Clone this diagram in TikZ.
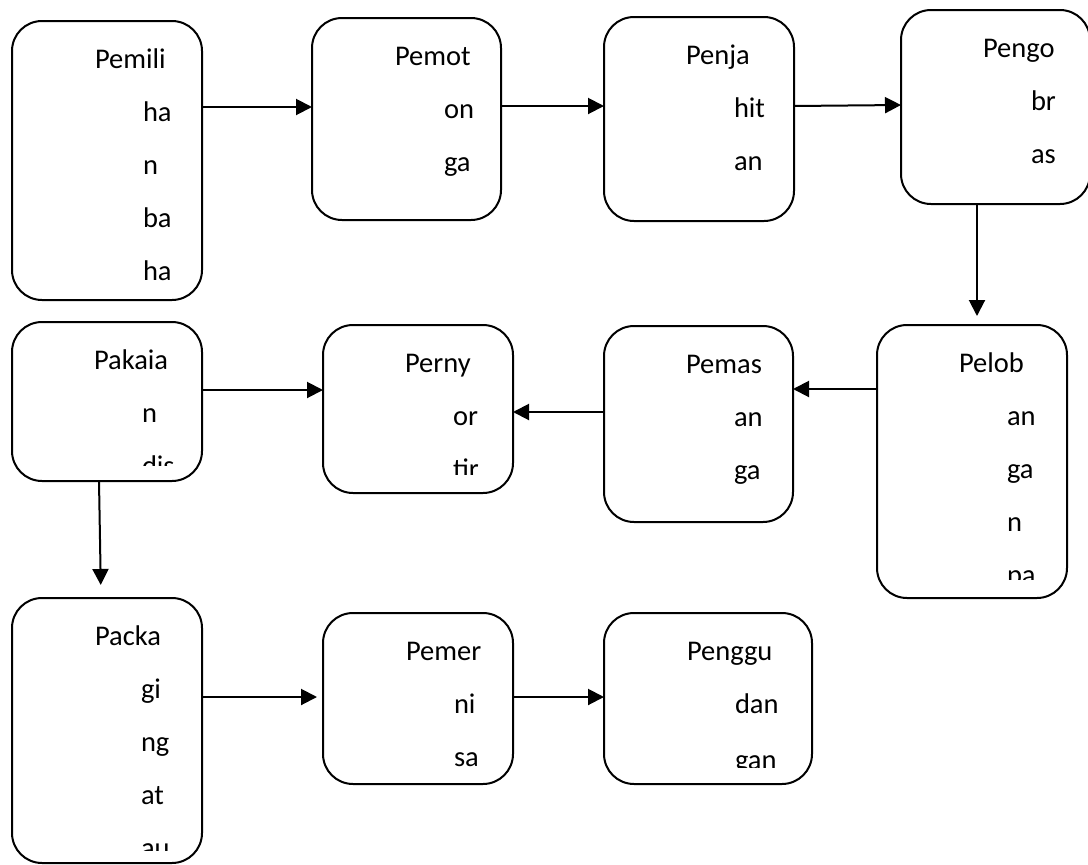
\documentclass[tikz,border=0pt]{standalone}
\usepackage{fontspec}
\setmainfont{Carlito}
\usetikzlibrary{arrows.meta}
\tikzset{
  procbox/.style={draw=black, line width=2pt, rounded corners=30pt, rectangle, inner sep=0pt, outer sep=0pt},
  txt/.style={anchor=base west, inner sep=0pt, outer sep=0pt, font=\fontsize{28.5}{28.5}\selectfont},
  arr/.style={line width=2pt, -{Triangle[length=16pt,width=16pt]}}
}
\begin{document}
\begin{tikzpicture}[x=1pt,y=-1pt]
\useasboundingbox (0,0) rectangle (1088,865);
% boxes
\node[procbox, minimum width=190pt, minimum height=279pt] (pemili) at (107,160.5) {};
\node[procbox, minimum width=189pt, minimum height=202pt] (pemot) at (406.5,119) {};
\node[procbox, minimum width=190pt, minimum height=204pt] (penja) at (699,119) {};
\node[procbox, minimum width=189pt, minimum height=194pt] (pengo) at (995.5,107) {};
\node[procbox, minimum width=190pt, minimum height=273pt] (pelob) at (972,461.5) {};
\node[procbox, minimum width=189pt, minimum height=196pt] (pemas) at (698.5,424) {};
\node[procbox, minimum width=190pt, minimum height=168pt] (perny) at (418,409) {};
\node[procbox, minimum width=190pt, minimum height=159pt] (pakai) at (107,401.5) {};
\node[procbox, minimum width=190pt, minimum height=265pt] (packa) at (107,730.5) {};
\node[procbox, minimum width=190pt, minimum height=171pt] (pemer) at (418,698.5) {};
\node[procbox, minimum width=208pt, minimum height=171pt] (penggu) at (708,698.5) {};
% texts
\begin{scope}
\clip (12,21) rectangle (202,285);
\node[txt] (t1a) at (95,68) {Pemili};
\node[txt] (t1b) at (143,121) {ha};
\node[txt] (t1c) at (143,174) {n};
\node[txt] (t1d) at (143,227) {ba};
\node[txt] (t1e) at (143,280) {ha};
\end{scope}
\begin{scope}
\clip (312,18) rectangle (501,201);
\node[txt] (t2a) at (395,65) {Pemot};
\node[txt] (t2b) at (444,118) {on};
\node[txt] (t2c) at (444,171) {ga};
\end{scope}
\begin{scope}
\clip (604,17) rectangle (794,202);
\node[txt] (t3a) at (686,64) {Penja};
\node[txt] (t3b) at (734,117) {hit};
\node[txt] (t3c) at (734,170) {an};
\end{scope}
\begin{scope}
\clip (901,10) rectangle (1090,185);
\node[txt] (t4a) at (983,57) {Pengo};
\node[txt] (t4b) at (1031,110) {br};
\node[txt] (t4c) at (1031,163) {as};
\end{scope}
\begin{scope}
\clip (877,325) rectangle (1067,579);
\node[txt] (t5a) at (959,372) {Pelob};
\node[txt] (t5b) at (1007,425) {an};
\node[txt] (t5c) at (1007,478) {ga};
\node[txt] (t5d) at (1007,531) {n};
\node[txt] (t5e) at (1007,584) {pa};
\end{scope}
\begin{scope}
\clip (604,326) rectangle (793,503);
\node[txt] (t6a) at (686,373) {Pemas};
\node[txt] (t6b) at (734,426) {an};
\node[txt] (t6c) at (734,479) {ga};
\end{scope}
\begin{scope}
\clip (323,325) rectangle (513,474);
\node[txt] (t7a) at (405,372) {Perny};
\node[txt] (t7b) at (453,425) {or};
\node[txt] (t7c) at (453,478) {tir};
\end{scope}
\begin{scope}
\clip (12,322) rectangle (202,465);
\node[txt] (t8a) at (94,369) {Pakaia};
\node[txt] (t8b) at (142,422) {n};
\node[txt] (t8c) at (142,475) {dis};
\end{scope}
\begin{scope}
\clip (12,598) rectangle (202,850);
\node[txt] (t9a) at (95,645) {Packa};
\node[txt] (t9b) at (141,698) {gi};
\node[txt] (t9c) at (141,751) {ng};
\node[txt] (t9d) at (141,804) {at};
\node[txt] (t9e) at (141,857) {au};
\end{scope}
\begin{scope}
\clip (323,613) rectangle (513,768);
\node[txt] (t10a) at (406,660) {Pemer};
\node[txt] (t10b) at (454,713) {ni};
\node[txt] (t10c) at (454,766) {sa};
\end{scope}
\begin{scope}
\clip (604,613) rectangle (812,767);
\node[txt] (t11a) at (687,660) {Penggu};
\node[txt] (t11b) at (735,713) {dan};
\node[txt] (t11c) at (735,769) {gan};
\end{scope}
% connectors
\draw[arr] ([yshift=-86pt]pemili.north east) -- ([yshift=-89pt]pemot.north west);
\draw[arr] ([yshift=-88pt]pemot.north east) -- ([yshift=-89pt]penja.north west);
\draw[arr] ([yshift=-89pt]penja.north east) -- ([yshift=-95pt]pengo.north west);
\draw[arr, shorten >=9pt] ([xshift=-18.5pt]pengo.south) -- ([xshift=5pt]pelob.north);
\draw[arr] ([yshift=-64pt]pelob.north west) -- ([yshift=-63pt]pemas.north east);
\draw[arr] ([yshift=-86pt]pemas.north west) -- ([yshift=-87pt]perny.north east);
\draw[arr] ([yshift=-68pt]pakai.north east) -- ([yshift=-65pt]perny.north west);
\draw[arr, shorten >=13pt] ([xshift=-8pt]pakai.south) -- ([xshift=-6pt]packa.north);
\draw[arr, shorten >=6pt] ([yshift=-99pt]packa.north east) -- ([yshift=-84pt]pemer.north west);
\draw[arr] ([yshift=-84pt]pemer.north east) -- ([yshift=-84pt]penggu.north west);
\end{tikzpicture}
\end{document}
